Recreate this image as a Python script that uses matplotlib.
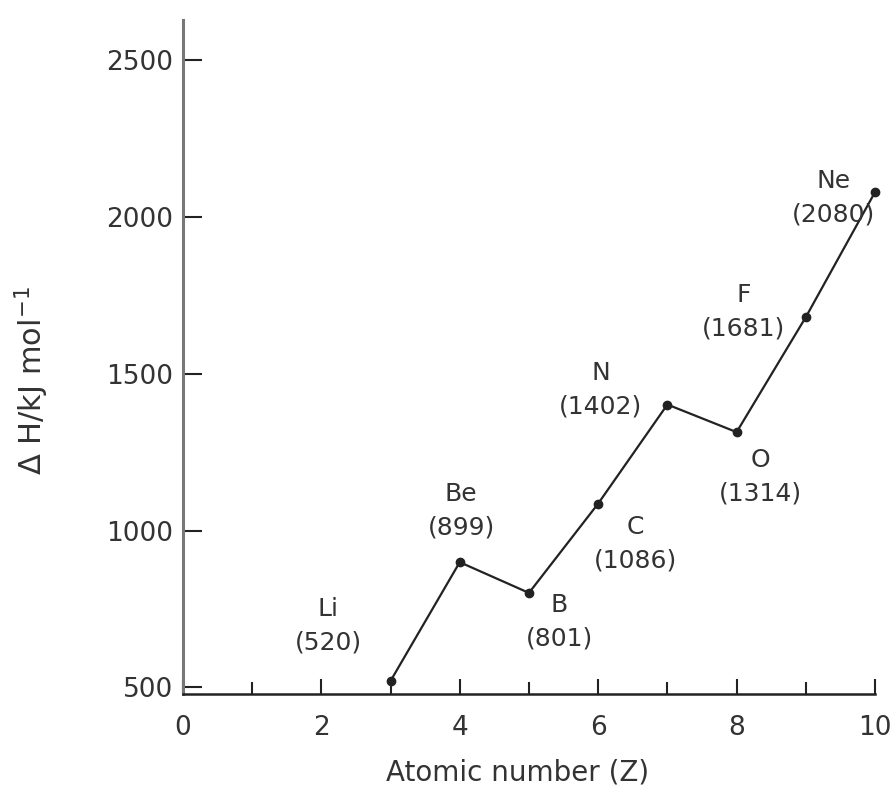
import matplotlib.pyplot as plt

plt.switch_backend('Agg')

# veriler
elements = ['Li', 'Be', 'B', 'C', 'N', 'O', 'F', 'Ne']
atomic_number = [3, 4, 5, 6, 7, 8, 9, 10]
delta_h = [520, 899, 801, 1086, 1402, 1314, 1681, 2080]

x_ticks = [0, 2, 4, 6, 8, 10]
y_ticks = [500, 1000, 1500, 2000, 2500]

# etiket kaydirmalari (point cinsinden)
label_offsets = [(-45, 40), (1, 37), (22, -21), (27, -29),
                 (-48, 11), (17, -32), (-45, 4), (-30, -4)]

fig = plt.figure(figsize=(8.92, 7.87), dpi=100)
ax = fig.add_axes([0.205, 0.118, 0.776, 0.857])

ax.plot(atomic_number, delta_h, color='#222222', lw=1.6, marker='o',
        markersize=6, clip_on=False, zorder=3)

for el, z, h, off in zip(elements, atomic_number, delta_h, label_offsets):
    ax.annotate(f'{el}\n({h})', (z, h), xytext=off, textcoords='offset points',
                ha='center', va='center', fontsize=18, linespacing=1.5,
                color='#333333')

ax.set_xlim(0, 10)
ax.set_ylim(478, 2630)
ax.set_xticks(x_ticks)
ax.set_xticks(range(0, 11), minor=True)
ax.set_yticks(y_ticks)

ax.spines['top'].set_visible(False)
ax.spines['right'].set_visible(False)
ax.spines['left'].set_color('#777777')
ax.spines['left'].set_linewidth(2.2)
ax.spines['bottom'].set_color('#222222')
ax.spines['bottom'].set_linewidth(1.8)

ax.tick_params(axis='x', which='major', direction='in', length=11, width=1.5,
               labelsize=19, pad=15, colors='#222222', labelcolor='#333333')
ax.tick_params(axis='x', which='minor', direction='in', length=9, width=1.5,
               colors='#222222')
ax.tick_params(axis='y', direction='in', length=14, width=1.5,
               labelsize=19, pad=7, colors='#222222', labelcolor='#333333')

ax.set_xlabel('Atomic number (Z)', fontsize=20, color='#333333')
ax.xaxis.set_label_coords(0.484, -0.095)
ax.set_ylabel(r'$\Delta$ H/kJ mol$^{-1}$', fontsize=22, color='#333333')
ax.yaxis.set_label_coords(-0.19, 0.465)

plt.savefig('out.png', dpi=100)
